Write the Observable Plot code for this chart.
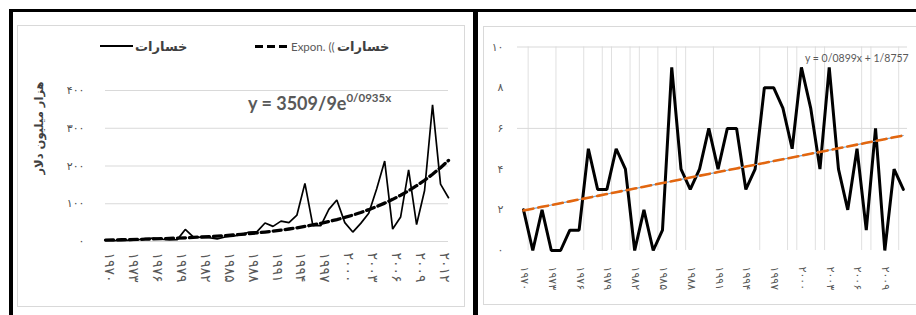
<!DOCTYPE html>
<html>
<head>
<meta charset="utf-8">
<script src="https://cdn.jsdelivr.net/npm/d3@7"></script>
<script src="https://cdn.jsdelivr.net/npm/@observablehq/plot@0.6"></script>
<style>
  html, body { margin: 0; padding: 0; background: #fff; }
  #root { position: relative; width: 916px; height: 315px; overflow: hidden; background: #fff; }
  #root > svg, #root > div { position: absolute; }
  .fa { font-family: "DejaVu Sans", sans-serif; }
  .la { font-family: Lato, "Open Sans", sans-serif; }
</style>
</head>
<body>
<div id="root"></div>
<script>
// ---------- Left chart: economic losses (thousand million dollars) ----------
const lossYears = [1970,1971,1972,1973,1974,1975,1976,1977,1978,1979,
  1980,1981,1982,1983,1984,1985,1986,1987,1988,1989,
  1990,1991,1992,1993,1994,1995,1996,1997,1998,1999,
  2000,2001,2002,2003,2004,2005,2006,2007,2008,2009,
  2010,2011,2012,2013];
const lossValues = [3,2,3,3,4,8,9,6,4,5,
  32,12,11,10,7,12,14,18,25,26,
  49,40,54,50,70,154,42,42,85,110,
  50,25,48,75,140,213,33,65,190,45,
  135,362,152,116];
// Excel exponential trendline shown on the chart: y = 3509.9 e^(0.0935 x), x = 1..n (million $)
const expCoefA = 3509.9;
const expCoefB = 0.0935;
const leftYTicks = [0, 100, 200, 300, 400];
const leftYTickLabels = ["۰", "۱۰۰", "۲۰۰", "۳۰۰", "۴۰۰"];
const leftXTicks = [1970,1973,1976,1979,1982,1985,1988,1991,1994,1997,2000,2003,2006,2009,2012];
const leftXTickLabels = ["۱۹۷۰","۱۹۷۳","۱۹۷۶","۱۹۷۹","۱۹۸۲","۱۹۸۵","۱۹۸۸","۱۹۹۱","۱۹۹۴","۱۹۹۷","۲۰۰۰","۲۰۰۳","۲۰۰۶","۲۰۰۹","۲۰۱۲"];

// ---------- Right chart: event counts ----------
const eventYears = [1970,1971,1972,1973,1974,1975,1976,1977,1978,1979,
  1980,1981,1982,1983,1984,1985,1986,1987,1988,1989,
  1990,1991,1992,1993,1994,1995,1996,1997,1998,1999,
  2000,2001,2002,2003,2004,2005,2006,2007,2008,2009,
  2010,2011];
const eventValues = [2,0,2,0,0,1,1,5,3,3,
  5,4,0,2,0,1,9,4,3,4,
  6,4,6,6,3,4,8,8,7,5,
  9,7,4,9,4,2,5,1,6,0,
  4,3];
// Excel linear trendline shown on the chart: y = 0.0899 x + 1.8757, x = 1..n
const linSlope = 0.0899;
const linIntercept = 1.8757;
const rightYTicks = [0, 2, 4, 6, 8, 10];
const rightYTickLabels = ["۰", "۲", "۴", "۶", "۸", "۱۰"];
const rightYGrid = [6, 10];
const rightXTicks = [1970,1973,1976,1979,1982,1985,1988,1991,1994,1997,2000,2003,2006,2009];
const rightXTickLabels = ["۱۹۷۰","۱۹۷۳","۱۹۷۶","۱۹۷۹","۱۹۸۲","۱۹۸۵","۱۹۸۸","۱۹۹۱","۱۹۹۴","۱۹۹۷","۲۰۰۰","۲۰۰۳","۲۰۰۶","۲۰۰۹"];
const rightVGrid = [1970.5,1973.5,1976.5,1978.5,1979.5,1981.5,1982.5,1984.5,1986.5,1987.5,
  1990.5,1995.5,1998.5,1999.5,2001.5,2002.5,2006.5,2007.5,2010.5];

// ---------- texts ----------
const leftSeriesName = "خسارات";
const leftTrendPrefix = "Expon. ((";
const leftYTitle = "هزار میلیون دلار";
const leftEqMain = "y = 3509/9e";
const leftEqSup = "0/0935x";
const rightEq = "y = 0/0899x + 1/8757";

// ---------- tables ----------
const lossData = lossYears.map((year, i) => ({year, value: lossValues[i]}));
const lossTrend = lossYears.map((year, i) => ({year, value: expCoefA * Math.exp(expCoefB * (i + 1)) / 1000}));
const eventData = eventYears.map((year, i) => ({year, value: eventValues[i]}));
const eventTrend = eventYears.map((year, i) => ({year, value: linSlope * (i + 1) + linIntercept}));

const root = document.getElementById("root");
function box(x, y, w, h, css) {
  const d = document.createElement("div");
  d.style.cssText = `left:${x}px;top:${y}px;width:${w}px;height:${h}px;box-sizing:border-box;${css}`;
  root.appendChild(d);
  return d;
}
function label(html, x, y, cls, css) {
  const d = document.createElement("div");
  d.className = cls;
  d.innerHTML = html;
  d.style.cssText = `left:${x}px;top:${y}px;white-space:nowrap;line-height:1;${css}`;
  root.appendChild(d);
  return d;
}

// inner panel frames
box(17, 25, 448, 282, "border:1px solid #d9d9d9;");
box(483, 26, 445, 279, "border:1px solid #d9d9d9;");

// ---------- left plot ----------
const leftPlot = Plot.plot({
  width: 458, height: 302,
  marginLeft: 91, marginRight: 24, marginTop: 77, marginBottom: 74,
  style: {background: "transparent", overflow: "visible", fontFamily: "DejaVu Sans"},
  x: {type: "linear", domain: [1970, 2013]},
  y: {domain: [0, 400]},
  marks: [
    Plot.gridY(leftYTicks, {stroke: "#d9d9d9", strokeOpacity: 1, strokeWidth: 1}),
    Plot.axisY(leftYTicks, {tickSize: 0, tickPadding: 21, label: null, fill: "#4d4d4d", fontSize: 11,
      tickFormat: d => leftYTickLabels[leftYTicks.indexOf(d)]}),
    Plot.axisX(leftXTicks, {tickSize: 0, tickPadding: 11, tickRotate: 90, label: null, fill: "#595959", fontSize: 14, dx: 4,
      tickFormat: d => leftXTickLabels[leftXTicks.indexOf(d)]}),
    Plot.line(lossData, {x: "year", y: "value", stroke: "#000", strokeWidth: 1.7, strokeLinejoin: "miter"}),
    Plot.line(lossTrend, {x: "year", y: "value", stroke: "#000", strokeWidth: 3.3, strokeDasharray: "8,4"})
  ]
});
leftPlot.style.left = "14px";
leftPlot.style.top = "13px";
root.appendChild(leftPlot);

// ---------- right plot ----------
const rightPlot = Plot.plot({
  width: 438, height: 302,
  marginLeft: 39, marginRight: 9, marginTop: 33.5, marginBottom: 65,
  style: {background: "transparent", overflow: "visible", fontFamily: "DejaVu Sans"},
  x: {type: "linear", domain: [1969.35, 2011.45]},
  y: {domain: [0, 10]},
  marks: [
    Plot.ruleX(rightVGrid, {stroke: "#e0e0e0", strokeWidth: 1}),
    Plot.gridY(rightYGrid, {stroke: "#d9d9d9", strokeOpacity: 1, strokeWidth: 1}),
    Plot.axisY(rightYTicks, {tickSize: 0, tickPadding: 14, label: null, fill: "#595959", fontSize: 11,
      tickFormat: d => rightYTickLabels[rightYTicks.indexOf(d)]}),
    Plot.axisX(rightXTicks, {tickSize: 0, tickPadding: 16, tickRotate: 90, label: null, fill: "#595959", fontSize: 11, dx: 1,
      tickFormat: d => rightXTickLabels[rightXTicks.indexOf(d)]}),
    Plot.line(eventData, {x: "year", y: "value", stroke: "#000", strokeWidth: 3, strokeLinejoin: "miter"}),
    Plot.line(eventTrend, {x: "year", y: "value", stroke: "#6fa8dc", strokeWidth: 1.2}),
    Plot.line(eventTrend, {x: "year", y: "value", stroke: "#e2660f", strokeWidth: 2.6, strokeDasharray: "10,5"})
  ]
});
rightPlot.style.left = "478px";
rightPlot.style.top = "13px";
root.appendChild(rightPlot);

// ---------- legend / titles (left panel) ----------
box(100, 45, 33, 2, "background:#000;");
label(leftSeriesName, 135, 46, "fa", "font-weight:bold;font-size:13px;color:#404040;transform:translateY(-50%);direction:rtl;");
box(255, 44.5, 32, 3.3, "background:repeating-linear-gradient(to right,#000 0 8px,transparent 8px 12px);");
label(leftTrendPrefix, 291, 47, "la", "font-size:11.5px;color:#595959;transform:translateY(-50%);direction:ltr;");
label(leftSeriesName, 337, 46, "fa", "font-weight:bold;font-size:13px;color:#404040;transform:translateY(-50%);direction:rtl;");
label(leftYTitle, 40, 128, "fa", "font-weight:bold;font-size:11.5px;color:#404040;direction:rtl;transform:translate(-50%,-50%) rotate(-90deg);");
label(`${leftEqMain}<span style="font-size:11.5px;position:relative;top:-8px;">${leftEqSup}</span>`,
  248, 103, "la", "font-weight:bold;font-size:18px;color:#595959;transform:translateY(-50%);");

// ---------- right panel equation ----------
label(rightEq, 805, 58, "la", "font-size:10.5px;color:#595959;transform:translateY(-50%);");

// ---------- outer black borders ----------
box(9, 9, 907, 3, "background:#000;");
box(9, 9, 4, 306, "background:#000;");
box(473, 9, 5, 306, "background:#000;");
</script>
</body>
</html>
